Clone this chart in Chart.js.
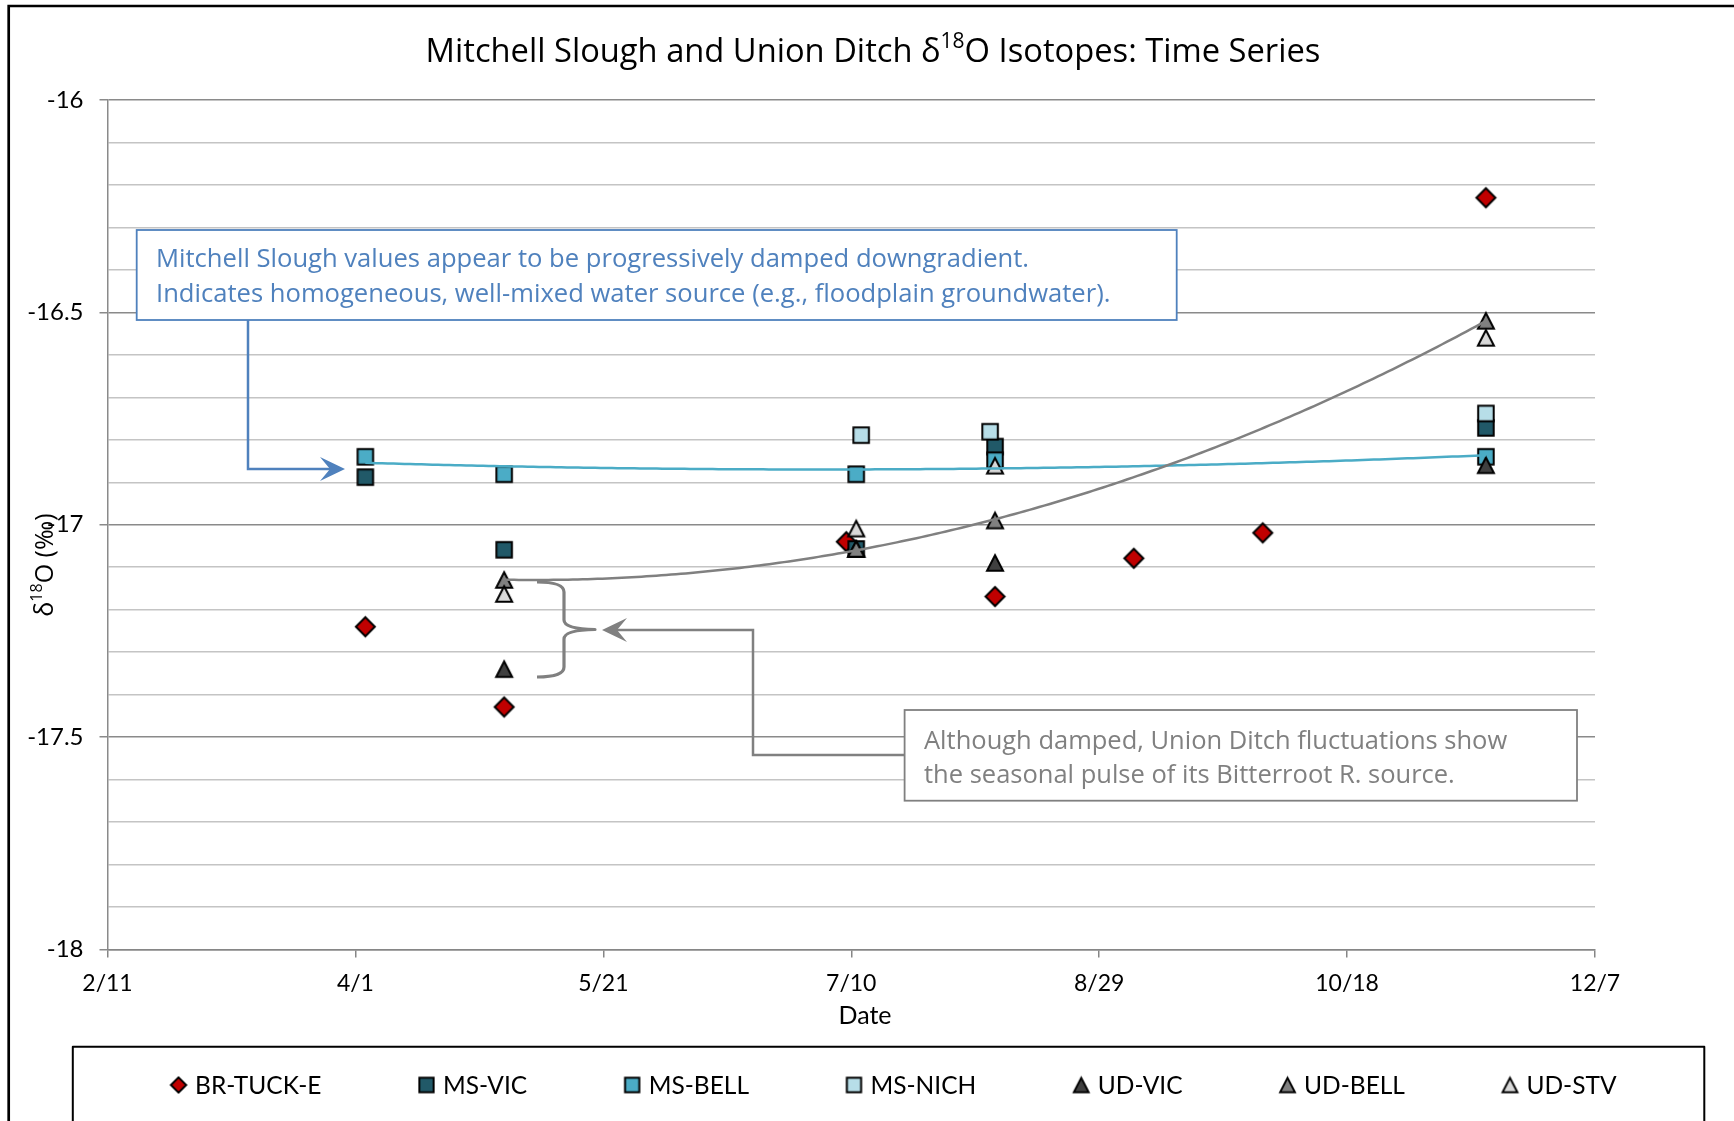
<!DOCTYPE html>
<html><head><meta charset="utf-8">
<script src="https://cdn.jsdelivr.net/npm/chart.js@4/dist/chart.umd.min.js"></script>
<style>html,body{margin:0;padding:0;background:#fff;}canvas{display:block;}</style>
</head><body>
<canvas id="c" width="1734" height="1121" style="width:1734px;height:1121px"></canvas>
<script>
// ---------------- DATA ----------------
const axisStart = '2012-02-11';
const axisEnd = '2012-12-07';
const tickStepDays = 50;
const yMin = -18, yMax = -16, yMinorStep = 0.1;
const yTickLabels = ['-16', '-16.5', '-17', '-17.5', '-18'];
const seriesNames = ['BR-TUCK-E', 'MS-VIC', 'MS-BELL', 'MS-NICH', 'UD-VIC', 'UD-BELL', 'UD-STV'];

const brTuckDates  = ['2012-04-03','2012-05-01','2012-07-09','2012-08-08','2012-09-05','2012-10-01','2012-11-15'];
const brTuckValues = [-17.240, -17.429, -17.040, -17.169, -17.079, -17.019, -16.230];
const msVicDates   = ['2012-04-03','2012-05-01','2012-07-11','2012-08-08','2012-11-15'];
const msVicValues  = [-16.888, -17.059, -17.057, -16.816, -16.772];
const msBellDates  = ['2012-04-03','2012-05-01','2012-07-11','2012-08-08','2012-11-15'];
const msBellValues = [-16.840, -16.881, -16.881, -16.848, -16.840];
const msNichDates  = ['2012-07-12','2012-08-07','2012-11-15'];
const msNichValues = [-16.789, -16.781, -16.738];
const udVicDates   = ['2012-05-01','2012-07-11','2012-08-08','2012-11-15'];
const udVicValues  = [-17.340, -17.057, -17.090, -16.860];
const udBellDates  = ['2012-05-01','2012-07-11','2012-08-08','2012-11-15'];
const udBellValues = [-17.130, -17.057, -16.990, -16.520];
const udStvDates   = ['2012-05-01','2012-07-11','2012-08-08','2012-11-15'];
const udStvValues  = [-17.163, -17.009, -16.861, -16.560];

const titleParts = ['Mitchell Slough and Union Ditch \u03b4', '18', 'O Isotopes: Time Series'];
const yTitleParts = ['\u03b4', '18', 'O (\u2030)'];
const xTitle = 'Date';
const noteBlue = ['Mitchell Slough values appear to be progressively damped downgradient.',
                  'Indicates homogeneous, well-mixed water source (e.g., floodplain groundwater).'];
const noteGray = ['Although damped, Union Ditch fluctuations show',
                  'the seasonal pulse of its Bitterroot R. source.'];

// ---------------- STYLES ----------------
const FONT = "Lato, 'Open Sans', 'DejaVu Sans', sans-serif";
const FONT2 = "'Open Sans', Lato, 'DejaVu Sans', sans-serif";
const seriesStyle = [
  {fill:'#c00000', shape:'diamond'},
  {fill:'#215968', shape:'square'},
  {fill:'#4bacc6', shape:'square'},
  {fill:'#b7dee8', shape:'square'},
  {fill:'#404040', shape:'triangle'},
  {fill:'#808080', shape:'triangle'},
  {fill:'#d9d9d9', shape:'triangle'}
];

function toDay(s) {
  const p = s.split('-').map(Number), q = axisStart.split('-').map(Number);
  return Math.round((Date.UTC(p[0], p[1]-1, p[2]) - Date.UTC(q[0], q[1]-1, q[2])) / 864e5);
}
function dayLabel(v) {
  const q = axisStart.split('-').map(Number);
  const d = new Date(Date.UTC(q[0], q[1]-1, q[2] + Math.round(v)));
  return (d.getUTCMonth()+1) + '/' + d.getUTCDate();
}

function makeMarker(shape, fill, scale) {
  const lw = 2;
  let w, h;
  if (shape === 'square') { w = 15.5*scale; h = 15.5*scale; }
  else if (shape === 'diamond') { w = 19*scale; h = 19*scale; }
  else { w = 16*scale; h = 15.5*scale; }
  const c = document.createElement('canvas');
  c.width = Math.ceil(w + lw*2 + 2); c.height = Math.ceil(h + lw*2 + 2);
  const g = c.getContext('2d');
  const cx = c.width/2, cy = c.height/2;
  g.beginPath();
  if (shape === 'square') g.rect(cx - w/2, cy - h/2, w, h);
  else if (shape === 'diamond') { g.moveTo(cx, cy - h/2); g.lineTo(cx + w/2, cy); g.lineTo(cx, cy + h/2); g.lineTo(cx - w/2, cy); g.closePath(); }
  else { g.moveTo(cx, cy - h/2); g.lineTo(cx + w/2, cy + h/2); g.lineTo(cx - w/2, cy + h/2); g.closePath(); }
  g.fillStyle = fill; g.fill();
  g.lineJoin = 'miter'; g.lineWidth = lw; g.strokeStyle = '#000'; g.stroke();
  return c;
}

const seriesData = [
  [brTuckDates, brTuckValues], [msVicDates, msVicValues], [msBellDates, msBellValues],
  [msNichDates, msNichValues], [udVicDates, udVicValues], [udBellDates, udBellValues],
  [udStvDates, udStvValues]
];
const plotMarkers = seriesStyle.map(s => makeMarker(s.shape, s.fill, 1));
const legendMarkers = seriesStyle.map(s => makeMarker(s.shape, s.fill, s.shape === 'diamond' ? 0.8 : 0.92));

const datasets = seriesNames.map((name, i) => ({
  label: name,
  data: seriesData[i][0].map((d, j) => ({x: toDay(d), y: seriesData[i][1][j]})),
  pointStyle: plotMarkers[i],
  pointRadius: 10,
  pointHoverRadius: 10,
  showLine: false,
  order: seriesNames.length - i
}));

// quadratic least-squares fit (Excel polynomial trendline, order 2)
function polyfit2(xs, ys) {
  let S = [0,0,0,0,0], T = [0,0,0];
  for (let i = 0; i < xs.length; i++) {
    let p = 1;
    for (let k = 0; k < 5; k++) { S[k] += p; if (k < 3) T[k] += p * ys[i]; p *= xs[i]; }
  }
  const A = [[S[0],S[1],S[2],T[0]],[S[1],S[2],S[3],T[1]],[S[2],S[3],S[4],T[2]]];
  for (let c = 0; c < 3; c++) {
    for (let r = c+1; r < 3; r++) {
      const f = A[r][c] / A[c][c];
      for (let k = c; k < 4; k++) A[r][k] -= f * A[c][k];
    }
  }
  const co = [0,0,0];
  for (let r = 2; r >= 0; r--) {
    let s = A[r][3];
    for (let k = r+1; k < 3; k++) s -= A[r][k] * co[k];
    co[r] = s / A[r][r];
  }
  return x => co[0] + co[1]*x + co[2]*x*x;
}
const trends = [
  {idx: 2, color: '#4bacc6'},
  {idx: 5, color: '#808080'}
];

function isMajor(v) { return Math.abs(v*2 - Math.round(v*2)) < 1e-6; }

function drawParts(ctx, parts, x, y, size, supSize, rise, align, fam) {
  const f1 = size + 'px ' + fam, f2 = supSize + 'px ' + fam;
  ctx.font = f1; const w0 = ctx.measureText(parts[0]).width;
  ctx.font = f2; const w1 = ctx.measureText(parts[1]).width;
  ctx.font = f1; const w2 = ctx.measureText(parts[2]).width;
  const total = w0 + w1 + w2;
  let sx = align === 'center' ? x - total/2 : x;
  ctx.textAlign = 'left'; ctx.textBaseline = 'middle';
  ctx.font = f1; ctx.fillText(parts[0], sx, y);
  ctx.font = f2; ctx.fillText(parts[1], sx + w0, y - rise);
  ctx.font = f1; ctx.fillText(parts[2], sx + w0 + w1, y);
}

function stealth(ctx, tx, ty, dir, color) {
  const L = 25, hw = 12, n = 15;
  ctx.beginPath();
  ctx.moveTo(tx, ty);
  ctx.lineTo(tx - dir*L, ty - hw);
  ctx.lineTo(tx - dir*n, ty);
  ctx.lineTo(tx - dir*L, ty + hw);
  ctx.closePath();
  ctx.fillStyle = color; ctx.fill();
}

const decor = {
  id: 'decor',
  beforeDraw(chart) {
    const ctx = chart.ctx;
    ctx.save(); ctx.fillStyle = '#fff'; ctx.fillRect(0, 0, chart.width, chart.height); ctx.restore();
  },
  afterDatasetsDraw(chart) {
    const ctx = chart.ctx, xs = chart.scales.x, ys = chart.scales.y, a = chart.chartArea;
    ctx.save();
    ctx.beginPath(); ctx.rect(a.left, a.top, a.right - a.left, a.bottom - a.top); ctx.clip();
    trends.forEach(t => {
      const px = seriesData[t.idx][0].map(toDay), py = seriesData[t.idx][1];
      const f = polyfit2(px, py);
      const x0 = Math.min(...px), x1 = Math.max(...px);
      ctx.beginPath();
      for (let k = 0; k <= 200; k++) {
        const xv = x0 + (x1 - x0) * k / 200;
        const X = xs.getPixelForValue(xv), Y = ys.getPixelForValue(f(xv));
        if (k === 0) ctx.moveTo(X, Y); else ctx.lineTo(X, Y);
      }
      ctx.strokeStyle = t.color; ctx.lineWidth = 2.5; ctx.stroke();
    });
    ctx.restore();
  },
  afterDraw(chart) {
    const ctx = chart.ctx;
    ctx.save();
    // outer frame (extends beyond the picture)
    ctx.strokeStyle = '#000'; ctx.lineWidth = 2.7;
    ctx.beginPath(); ctx.moveTo(8.7, 1125); ctx.lineTo(8.7, 6); ctx.lineTo(1740, 6); ctx.stroke();

    // title
    ctx.fillStyle = '#000';
    drawParts(ctx, titleParts, 873, 53, 32.7, 21, 10.5, 'center', FONT2);
    // axis titles
    ctx.font = '25px ' + FONT; ctx.textAlign = 'center'; ctx.textBaseline = 'middle';
    ctx.fillText(xTitle, 865, 1016);
    ctx.save(); ctx.translate(46, 565); ctx.rotate(-Math.PI/2);
    drawParts(ctx, yTitleParts, 0, 0, 25, 16, 9, 'center', FONT2);
    ctx.restore();

    // blue note
    const blue = '#4f81bd';
    ctx.fillStyle = '#fff'; ctx.fillRect(136.7, 230, 1176.7 - 136.7, 320 - 230);
    ctx.strokeStyle = blue; ctx.lineWidth = 1.8; ctx.strokeRect(136.7, 230, 1176.7 - 136.7, 320 - 230);
    ctx.fillStyle = blue; ctx.font = '25.6px ' + FONT2; ctx.textAlign = 'left'; ctx.textBaseline = 'middle';
    ctx.fillText(noteBlue[0], 156, 260);
    ctx.fillText(noteBlue[1], 156, 295);
    ctx.strokeStyle = blue; ctx.lineWidth = 2.5;
    ctx.beginPath(); ctx.moveTo(248, 320); ctx.lineTo(248, 469); ctx.lineTo(332, 469); ctx.stroke();
    stealth(ctx, 345, 469, 1, blue);

    // gray note
    const gray = '#808080';
    ctx.fillStyle = '#fff'; ctx.fillRect(904.6, 710, 1577 - 904.6, 800.7 - 710);
    ctx.strokeStyle = gray; ctx.lineWidth = 1.8; ctx.strokeRect(904.6, 710, 1577 - 904.6, 800.7 - 710);
    ctx.fillStyle = gray; ctx.font = '25.5px ' + FONT2;
    ctx.fillText(noteGray[0], 924, 741.5);
    ctx.fillText(noteGray[1], 924, 775.5);
    ctx.strokeStyle = gray; ctx.lineWidth = 2.5;
    ctx.beginPath(); ctx.moveTo(904.6, 755); ctx.lineTo(753, 755); ctx.lineTo(753, 630); ctx.lineTo(615, 630); ctx.stroke();
    stealth(ctx, 602, 630, -1, gray);

    // brace
    ctx.strokeStyle = gray; ctx.lineWidth = 3.2; ctx.lineJoin = 'round'; ctx.lineCap = 'butt';
    ctx.beginPath();
    ctx.moveTo(537, 582);
    ctx.quadraticCurveTo(564, 582, 564, 592);
    ctx.lineTo(564, 620);
    ctx.quadraticCurveTo(564, 629, 595, 629.5);
    ctx.quadraticCurveTo(564, 630, 564, 639);
    ctx.lineTo(564, 667);
    ctx.quadraticCurveTo(564, 677, 537, 677);
    ctx.stroke();

    // legend box (extends beyond picture bottom)
    ctx.strokeStyle = '#000'; ctx.lineWidth = 2;
    ctx.beginPath(); ctx.moveTo(72.8, 1125); ctx.lineTo(72.8, 1046.7); ctx.lineTo(1704.3, 1046.7); ctx.lineTo(1704.3, 1125); ctx.stroke();
    // legend items
    ctx.font = '24.5px ' + FONT; ctx.fillStyle = '#000'; ctx.textAlign = 'left'; ctx.textBaseline = 'middle';
    const textGap = 16.5, itemGap = 105;
    const widths = seriesNames.map(n => ctx.measureText(n).width);
    let total = 0;
    widths.forEach((w, i) => { total += textGap + w + (i < widths.length - 1 ? itemGap : 0); });
    const firstHalf = 8;
    let mx = (72.8 + 1704.3) / 2 - (total + firstHalf) / 2 + firstHalf + 5;
    const ly = 1085;
    seriesNames.forEach((n, i) => {
      const m = legendMarkers[i];
      ctx.drawImage(m, mx - m.width/2, ly - m.height/2);
      ctx.fillText(n, mx + textGap, ly + 1);
      mx += textGap + widths[i] + itemGap;
    });
    ctx.restore();
  }
};

new Chart(document.getElementById('c'), {
  type: 'scatter',
  data: { datasets },
  options: {
    responsive: false,
    animation: false,
    events: [],
    layout: { padding: { top: 100, right: 139, bottom: 1121 - 949.5 - 60, left: 0 } },
    plugins: { legend: { display: false }, title: { display: false }, tooltip: { enabled: false } },
    scales: {
      x: {
        type: 'linear', min: 0, max: toDay(axisEnd),
        ticks: { stepSize: tickStepDays, autoSkip: false, maxRotation: 0, padding: 12,
                 color: '#000', font: { family: FONT, size: 23 }, callback: v => dayLabel(v) },
        grid: { display: true, drawOnChartArea: false, drawTicks: true, tickLength: 8, tickColor: '#868686', lineWidth: 1.5 },
        border: { color: '#868686', width: 1.5 },
        afterFit: s => { s.height = 60; }
      },
      y: {
        type: 'linear', min: yMin, max: yMax,
        ticks: { stepSize: yMinorStep, autoSkip: false, padding: 16, color: '#000',
                 font: { family: FONT, size: 24 },
                 callback: v => {
                   if (!isMajor(v)) return '';
                   const idx = Math.round((yMax - v) * 2);
                   return yTickLabels[idx];
                 } },
        grid: {
          color: c => (c.tick && isMajor(c.tick.value)) ? '#8a8a8a' : '#c4c4c4',
          tickColor: c => (c.tick && isMajor(c.tick.value)) ? '#8a8a8a' : 'rgba(0,0,0,0)',
          lineWidth: 1.5, tickLength: 8
        },
        border: { color: '#8a8a8a', width: 1.5 },
        afterFit: s => { s.width = 107.5; }
      }
    }
  },
  plugins: [decor]
});
</script>
</body></html>
